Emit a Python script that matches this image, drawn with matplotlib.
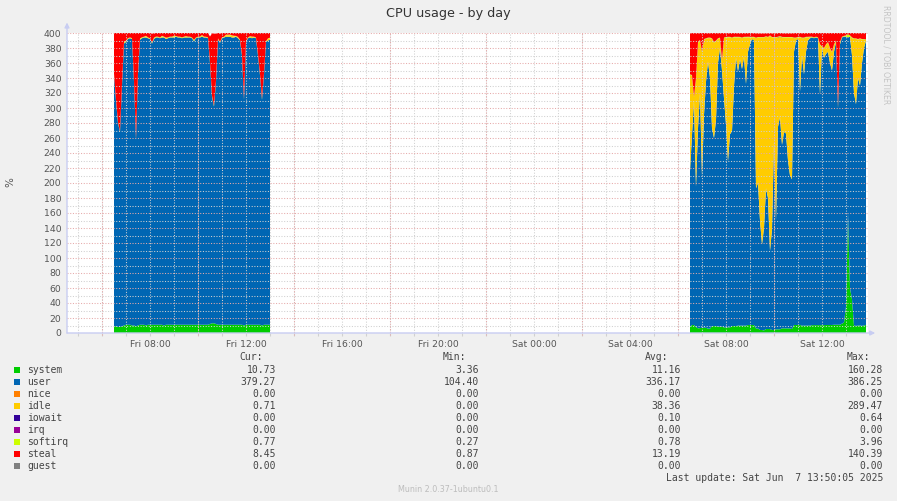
import datetime as dt

import numpy as np
import pandas as pd
import matplotlib
matplotlib.use("Agg")
import matplotlib.pyplot as plt
import matplotlib.dates as mdates
from matplotlib.patches import Rectangle

# ---- data: 5-minute munin samples, two blocks of data (gap in between) ----
BLOCK1_START = "2025-06-06 06:30"
BLOCK2_START = "2025-06-07 06:30"

sys1 = [9, 9, 8, 8, 9, 10, 11, 11, 11, 10, 10, 9, 10, 11, 11, 11, 10, 11, 11, 11,
        11, 11, 11, 11, 11, 10, 11, 11, 11, 11, 11, 11, 11, 11, 11, 11, 11, 11, 11, 11,
        11, 11, 11, 11, 11, 11, 11, 11, 12, 13, 13, 12, 11, 11, 11, 11, 11, 11, 11, 11,
        11, 11, 11, 11, 11, 10, 11, 11, 11, 11, 11, 11, 11, 11, 10, 11, 11, 11, 11]
user1 = [336, 301, 272, 260, 321, 376, 377, 381, 382, 382, 325, 249, 335, 380, 382, 383, 384, 382, 381, 375,
         381, 383, 383, 382, 383, 384, 381, 382, 383, 383, 383, 384, 383, 383, 382, 383, 383, 383, 383, 382,
         378, 382, 383, 383, 384, 383, 383, 382, 348, 302, 289, 323, 380, 376, 382, 383, 384, 384, 384, 383,
         383, 384, 382, 379, 359, 301, 377, 382, 383, 382, 383, 382, 359, 333, 301, 334, 377, 379, 380]
idle1 = [0.3, 0.3, 0.3, 0.3, 0.3, 1.5, 1.0, 0.3, 0.3, 0.3, 0.3, 0.3, 0.3, 1.0, 0.3, 0.3, 1.5, 0.3, 0.3, 0.3,
         1.0, 0.3, 0.3, 0.3, 1.5, 0.3, 1.0, 0.3, 0.3, 0.3, 1.5, 0.3, 0.3, 0.3, 0.3, 0.3, 1.0, 0.3, 0.3, 0.3,
         1.0, 0.3, 0.3, 0.3, 1.5, 0.3, 0.3, 0.3, 0.3, 0.3, 0.3, 0.3, 1.0, 0.3, 0.3, 0.3, 2.0, 2.0, 2.0, 2.0,
         1.5, 0.3, 1.0, 0.3, 0.3, 0.3, 0.3, 0.3, 1.0, 1.5, 0.3, 0.3, 0.3, 0.3, 0.3, 0.3, 0.3, 2.0, 2.0]
softirq1 = [0.8, 0.7, 0.9, 0.8, 0.8, 0.7, 0.8, 0.9, 0.8, 0.8, 0.7, 0.8, 0.8, 0.8, 0.9, 0.8, 0.7, 0.8, 0.8, 0.8,
            0.8, 0.9, 0.8, 0.7, 0.8, 0.8, 0.8, 0.8, 0.9, 0.8, 0.8, 0.7, 0.8, 0.8, 0.8, 0.8, 0.9, 0.8, 0.8, 0.7,
            0.8, 0.8, 0.8, 0.9, 0.8, 0.8, 0.7, 0.8, 1.0, 1.2, 1.1, 0.9, 0.8, 0.8, 0.8, 0.7, 0.8, 0.8, 0.9, 0.8,
            0.8, 0.8, 0.7, 0.8, 0.9, 1.0, 0.8, 0.8, 0.8, 0.7, 0.8, 0.8, 0.9, 1.0, 1.1, 0.9, 0.8, 0.8, 0.8]
steal1 = [54, 89, 119, 131, 69, 13, 11, 7, 6, 7, 64, 141, 54, 8, 6, 5, 5, 6, 7, 12,
          6, 5, 5, 6, 5, 5, 7, 6, 5, 5, 5, 4, 5, 5, 6, 5, 5, 5, 5, 6,
          10, 6, 5, 5, 4, 5, 5, 6, 34, 83, 96, 63, 8, 11, 6, 5, 4, 4, 4, 5,
          5, 4, 6, 9, 29, 88, 11, 6, 5, 6, 5, 6, 29, 55, 88, 54, 11, 9, 8]

sys2 = [8.4, 10.7, 10.7, 8.0, 6.2, 6.5, 7.0, 7.0, 7.0, 5.8, 5.8, 9.3, 9.3, 9.3, 8.4, 8.4, 8.4, 7.5, 7.5, 7.5,
        7.5, 9.3, 9.3, 9.3, 9.8, 9.8, 9.8, 9.8, 9.8, 10.7, 10.7, 10.7, 10.7, 6.0, 6.0, 4.0, 4.0, 3.4, 5.3, 5.3,
        5.3, 4.0, 4.0, 4.9, 4.9, 4.9, 6.2, 6.2, 6.2, 6.2, 6.2, 5.3, 10.7, 10.7, 10.7, 10.7, 9.8, 9.8, 9.8, 9.8,
        9.8, 10.5, 10.5, 10.5, 10.5, 10.5, 10.5, 10.5, 10.7, 10.7, 10.7, 10.7, 11.0, 11.0, 11.0, 11.0, 12.5, 14.0, 35.0, 160.3,
        60.0, 45.0, 10.0, 9.5, 9.8, 10.0, 9.5, 10.0, 10.73]
user2 = [207.6, 253.3, 299.3, 187.0, 266.8, 313.5, 202.0, 284.0, 328.0, 356.2, 334.2, 263.7, 250.7, 274.7, 351.6, 371.6, 341.6, 305.5, 270.5, 221.5,
         257.5, 259.7, 319.7, 357.7, 339.2, 355.2, 342.2, 358.2, 322.2, 364.3, 374.3, 381.3, 379.3, 187.0, 194.0, 146.0, 114.0, 136.6, 187.7, 174.7,
         104.4, 134.0, 251.0, 145.1, 270.1, 283.1, 244.8, 261.8, 259.8, 223.8, 203.8, 199.7, 364.3, 379.3, 381.3, 311.3, 360.2, 335.2, 365.2, 380.2,
         383.2, 383.5, 382.5, 383.5, 382.5, 307.5, 369.5, 356.5, 361.3, 364.3, 349.3, 339.3, 364.0, 377.0, 289.0, 374.0, 381.5, 381.0, 360.0, 233.7,
         335.0, 325.0, 310.0, 295.5, 330.2, 320.0, 350.5, 370.0, 379.27]
idle2 = [128, 79, 4, 144, 114, 70, 165, 100, 57, 31, 53, 119, 127, 105, 32, 13, 13, 80, 116, 165,
         129, 124, 65, 27, 45, 29, 41, 26, 62, 19, 9, 2, 4, 200, 194, 244, 276, 254, 202, 214,
         286.5, 256, 139, 244, 119, 107, 143, 126, 128, 164, 184, 189, 18, 3, 2, 72, 23, 48, 19, 4,
         1.2, 0.2, 0.2, 0.2, 0.2, 66, 1.2, 12, 12, 12, 19, 24, 9, 1.2, 1.2, 2.2, 0.2, 0.2, 0.2, 0.2,
         0.2, 23, 72, 87, 51, 62, 31, 11, 0.71]
iowait2 = [0.1, 0.1, 0.2, 0.1, 0.1, 0.1, 0.3, 0.1, 0.1, 0.1, 0.1, 0.1, 0.2, 0.1, 0.1, 0.1, 0.6, 0.1, 0.1, 0.1,
           0.1, 0.1, 0.1, 0.1, 0.1, 0.1, 0.1, 0.1, 0.1, 0.1, 0.1, 0.1, 0.1, 0.1, 0.1, 0.1, 0.1, 0.1, 0.1, 0.1,
           0.1, 0.1, 0.1, 0.1, 0.4, 0.5, 0.2, 0.1, 0.1, 0.1, 0.1, 0.1, 0.1, 0.1, 0.1, 0.1, 0.1, 0.1, 0.1, 0.1,
           0.1, 0.1, 0.1, 0.1, 0.1, 0.1, 0.1, 0.1, 0.1, 0.1, 0.1, 0.1, 0.1, 0.1, 0.1, 0.1, 0.1, 0.1, 0.1, 0.1,
           0.1, 0.1, 0.1, 0.1, 0.1, 0.1, 0.1, 0.1, 0.0]
softirq2 = [0.9, 0.8, 0.8, 0.7, 0.8, 0.8, 0.9, 0.8, 0.8, 0.7, 0.8, 0.8, 0.9, 0.8, 0.8, 0.8, 1.0, 0.8, 0.7, 0.8,
            0.8, 0.8, 0.9, 0.8, 0.8, 0.7, 0.8, 0.8, 0.8, 0.9, 0.8, 0.8, 0.8, 0.6, 0.6, 0.5, 0.5, 0.5, 0.6, 0.6,
            0.5, 0.5, 0.6, 0.5, 0.6, 0.6, 0.6, 0.6, 0.6, 0.6, 0.6, 0.6, 0.8, 0.8, 0.8, 0.8, 0.8, 0.8, 0.8, 0.8,
            0.8, 0.8, 0.8, 0.8, 0.8, 0.9, 0.8, 0.9, 0.8, 0.8, 0.9, 0.9, 0.8, 0.8, 1.2, 0.8, 0.8, 0.9, 1.5, 4.0,
            1.5, 1.0, 0.8, 0.8, 0.8, 0.8, 0.8, 0.8, 0.77]
steal2 = [55, 56, 85, 60, 12, 9, 25, 8, 7, 6, 6, 7, 12, 10, 7, 6, 36, 6, 5, 5,
          5, 6, 5, 5, 5, 5, 6, 5, 5, 5, 5, 5, 5, 6, 5, 5, 5, 5, 4, 5,
          3, 5, 5, 5, 5, 4, 5, 5, 5, 5, 5, 5, 6, 6, 5, 5, 6, 6, 5, 5,
          5, 5, 6, 5, 6, 15, 18, 20, 15, 12, 20, 25, 15, 10, 98, 12, 5, 4, 4, 5,
          4, 6, 7, 7, 8, 7, 8, 8, 8.45]

# legend table (name, colour, cur, min, avg, max)
SERIES = ["system", "user", "nice", "idle", "iowait", "irq", "softirq", "steal", "guest"]
COLORS = ["#00cc00", "#0066b3", "#ff8000", "#ffcc00", "#330099", "#990099", "#ccff00", "#ff0000", "#808080"]
CUR = [10.73, 379.27, 0.00, 0.71, 0.00, 0.00, 0.77, 8.45, 0.00]
MIN = [3.36, 104.40, 0.00, 0.00, 0.00, 0.00, 0.27, 0.87, 0.00]
AVG = [11.16, 336.17, 0.00, 38.36, 0.10, 0.00, 0.78, 13.19, 0.00]
MAX = [160.28, 386.25, 0.00, 289.47, 0.64, 0.00, 3.96, 140.39, 0.00]

W, H = 897, 501
GRID_MAJOR = "#e6aaaa"
GRID_MINOR = "#d0d0d0"
AXIS_COL = "#c8cdf2"
TEXT_COL = "#555555"
DOTS = (0, (1, 1.6))


def fx(x):
    return x / W


def fy(y):
    return 1 - y / H


fig = plt.figure(figsize=(W / 100, H / 100), dpi=100, facecolor="#f0f0f0")
ax = fig.add_axes([fx(67), fy(333), 801 / W, 300 / H])
ax.set_facecolor("white")

col = dict(zip(SERIES, COLORS))
blocks = [
    (BLOCK1_START, [sys1, user1, idle1, softirq1, steal1],
     ["system", "user", "idle", "softirq", "steal"]),
    (BLOCK2_START, [sys2, user2, idle2, iowait2, softirq2, steal2],
     ["system", "user", "idle", "iowait", "softirq", "steal"]),
]
for start, layers, names in blocks:
    t = pd.date_range(start, periods=len(layers[0]), freq="5min").to_pydatetime()
    ax.stackplot(t, *[np.asarray(l, float) for l in layers],
                 colors=[col[n] for n in names], linewidth=0, zorder=1)

ax.set_xlim(dt.datetime(2025, 6, 6, 4, 32, 30), dt.datetime(2025, 6, 7, 13, 55))
ax.set_ylim(0, 400)

# y grid: labelled every 20 (reddish), minor every 10 (grey)
ax.set_yticks(np.arange(0, 401, 20))
ax.set_yticks(np.arange(0, 401, 10), minor=True)
ax.yaxis.grid(True, which="major", color=GRID_MAJOR, linestyle=DOTS, linewidth=0.75)
ax.yaxis.grid(True, which="minor", color=GRID_MINOR, linestyle=DOTS, linewidth=0.75)

# x grid: hourly grey, every 4h (from 02:00) reddish, labels every 4h from 00:00
ax.xaxis.set_major_locator(mdates.HourLocator(byhour=[0, 4, 8, 12, 16, 20]))
ax.xaxis.set_major_formatter(mdates.DateFormatter("%a %H:%M"))
ax.xaxis.set_minor_locator(mdates.HourLocator())
ax.xaxis.remove_overlapping_locs = False
ax.xaxis.grid(True, which="minor", color=GRID_MINOR, linestyle=DOTS, linewidth=0.75)
for t in pd.date_range("2025-06-06 06:00", "2025-06-07 13:00", freq="4h"):
    ax.axvline(t.to_pydatetime(), ymin=-0.008, ymax=1, color=GRID_MAJOR,
               linestyle=DOTS, linewidth=0.75, zorder=2.6, clip_on=False)
ax.set_axisbelow(False)

ax.tick_params(axis="both", which="major", length=0, labelsize=6.7, labelcolor=TEXT_COL)
ax.tick_params(axis="x", which="major", pad=5)
ax.tick_params(axis="y", which="major", pad=4)
ax.tick_params(axis="x", which="minor", length=2, color=GRID_MINOR, width=0.8)
ax.tick_params(axis="y", which="minor", length=0)
for s in ax.spines.values():
    s.set_visible(False)

# axis lines with arrow heads
ax.annotate("", xy=(0, 1.035), xytext=(0, 0), xycoords="axes fraction",
            arrowprops=dict(arrowstyle="-|>", color=AXIS_COL, lw=1, mutation_scale=7,
                            shrinkA=0, shrinkB=0), annotation_clip=False)
ax.annotate("", xy=(1.009, 0), xytext=(0, 0), xycoords="axes fraction",
            arrowprops=dict(arrowstyle="-|>", color=AXIS_COL, lw=1, mutation_scale=7,
                            shrinkA=0, shrinkB=0), annotation_clip=False)

# titles and side texts
fig.text(0.5, fy(14), "CPU usage - by day", ha="center", va="center",
         fontsize=9.2, color="#333333")
fig.text(fx(10), fy(182), "%", ha="center", va="center", rotation=90,
         fontsize=7.5, color=TEXT_COL)
fig.text(fx(886), fy(5), "RRDTOOL / TOBI OETIKER", ha="center", va="top",
         rotation=270, fontsize=5.6, color="#c4c4c4")

# legend table
mono = dict(family="DejaVu Sans Mono", fontsize=7, color="#444444", va="center")
val_right = [276, 479, 681, 883]
head_right = [263, 466, 668, 870]
for head, xr in zip(["Cur:", "Min:", "Avg:", "Max:"], head_right):
    fig.text(fx(xr), fy(357), head, ha="right", **mono)
for i, name in enumerate(SERIES):
    y = 370 + 12 * i
    fig.patches.append(Rectangle((fx(14), fy(y + 3)), 6 / W, 6 / H,
                                 transform=fig.transFigure, color=COLORS[i], lw=0))
    fig.text(fx(27), fy(y), name, ha="left", **mono)
    for vals, xr in zip([CUR, MIN, AVG, MAX], val_right):
        fig.text(fx(xr), fy(y), f"{vals[i]:.2f}", ha="right", **mono)
fig.text(fx(883), fy(478), "Last update: Sat Jun  7 13:50:05 2025", ha="right", **mono)
fig.text(0.5, fy(490), "Munin 2.0.37-1ubuntu0.1", ha="center", va="center",
         fontsize=5.8, color="#bdbdbd")

fig.savefig("out.png", dpi=100, facecolor=fig.get_facecolor())
